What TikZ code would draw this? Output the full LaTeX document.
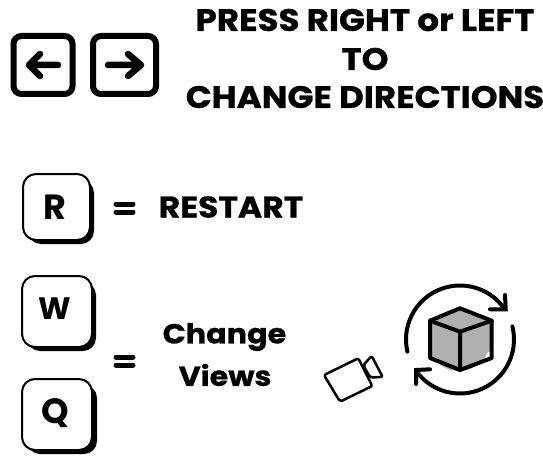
\documentclass[tikz,border=0pt]{standalone}
\usepackage{fontspec}
\usetikzlibrary{calc}
\setmainfont{Poppins}
\newfontfamily\headfont[FakeStretch=1.1,BoldFeatures={FakeStretch=1.1,FakeBold=0.8}]{Poppins}
\newfontfamily\capfont{Poppins}
\definecolor{cubegray}{HTML}{B0B0B0}
\tikzset{
  px/.style={x=1pt,y=-1pt},
  keyframe/.style={line width=6pt,rounded corners=8pt,draw=black,fill=white},
  arrowline/.style={line width=6.5pt,line cap=round,line join=round},
  keycap/.style={draw=black,fill=white,line width=2pt,rounded corners=13pt},
  keyshadow/.style={fill=black,rounded corners=13pt},
  keylabel/.style={font=\capfont\fontsize{35}{35}\selectfont\bfseries,inner sep=0pt,anchor=center},
  headline/.style={font=\headfont\fontsize{31}{31}\selectfont\bfseries,inner sep=0pt,anchor=center},
  subline/.style={font=\headfont\fontsize{27.5}{27.5}\selectfont\bfseries,inner sep=0pt,anchor=center},
  eqbar/.style={line width=5pt,line cap=round},
  orbit/.style={line width=4pt,line cap=round,line join=miter},
  cubeline/.style={line width=4pt,line join=round,line cap=round},
  camline/.style={line width=2.5pt,line join=round,rounded corners=2pt,fill=white}
}
\begin{document}
\begin{tikzpicture}[px]
\useasboundingbox (0,0) rectangle (543,468);
% arrow keys
\draw[keyframe] (13.5,36) rectangle (72.5,94);
\draw[keyframe] (93,36) rectangle (156,94);
\draw[arrowline] (58,65) -- (29,65) (40,54) -- (29,65) -- (40,76);
\draw[arrowline] (108,65) -- (141,65) (128,54) -- (141,65) -- (128,76);
% headline
\node[headline] (l1) at (365,20) {PRESS RIGHT or LEFT};
\node[headline] (l2) at (365,59) {TO};
\node[headline] (l3) at (365,97) {CHANGE DIRECTIONS};
% R key
\fill[keyshadow] (28,180) rectangle (94,244);
\draw[keycap] (23,174) rectangle (90,240);
\node[keylabel] (r) at (55,207) {R};
\draw[eqbar] (116,204) -- (133,204) (116,212) -- (133,212);
\node[headline,font=\headfont\fontsize{30}{30}\selectfont\bfseries] (restart) at (231,207) {RESTART};
% W key
\fill[keyshadow] (27,282) rectangle (96,351);
\draw[keycap] (22,276) rectangle (92,347);
\node[keylabel,font=\capfont\fontsize{31}{31}\selectfont\bfseries] (w) at (55,309) {W};
% Q key
\fill[keyshadow] (27,385) rectangle (97,454);
\draw[keycap] (22,379) rectangle (92,450);
\node[keylabel] (q) at (55,413) {Q};
\draw[eqbar] (116,357) -- (133,357) (116,365) -- (133,365);
\node[subline] (change) at (224.5,337) {Change};
\node[subline] (views) at (225,375) {Views};
% camera
\draw[camline] (324,375) -- (358.3,358.3) -- (372.3,386) -- (340,401.7) -- cycle;
\draw[camline] (363.3,365) -- (371.7,356) -- (382.7,377) -- (370,377.5) -- cycle;
% cube
\fill[cubegray] (459,340) circle (31);
\fill[cubegray] (430,320.7) -- (460,308.3) -- (491.7,320.7) -- (491.7,350) -- (460,370) -- (430,358) -- cycle;
\draw[cubeline] (430,320.7) -- (460,308.3) -- (491.7,320.7) -- (491.7,358) -- (460,370) -- (430,358) -- cycle;
\draw[cubeline] (430,320.7) -- (460,331.7) -- (491.7,320.7) (460,331.7) -- (460,370);
% orbit arrows
\draw[orbit] ($(460,339.5)+(167:54)$) arc[start angle=167,end angle=324,radius=54];
\draw[orbit] (505,295) -- (505.7,309.3) -- (490,309.3);
\draw[orbit] ($(460,339.5)+(-14:54)$) arc[start angle=-14,end angle=144,radius=54];
\draw[orbit] (416,384) -- (416,370) -- (430,369.3);
\end{tikzpicture}
\end{document}
